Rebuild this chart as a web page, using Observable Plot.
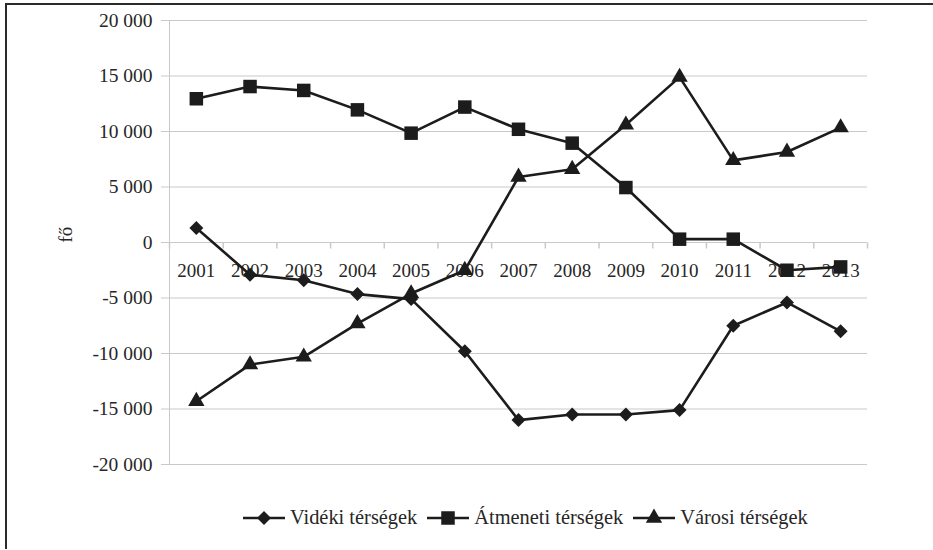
<!DOCTYPE html>
<html><head><meta charset="utf-8">
<script src="https://cdn.jsdelivr.net/npm/d3@7"></script>
<script src="https://cdn.jsdelivr.net/npm/@observablehq/plot@0.6"></script>
<style>
body{margin:0;background:#fff;}
#frame{position:absolute;left:5px;top:3px;width:928px;height:546px;border-left:2px solid #2a2a2a;border-top:2px solid #2a2a2a;box-sizing:border-box;}
#chart{position:absolute;left:0;top:0;}
#chart svg, #chart svg text{font-family:"Liberation Serif","Times New Roman","DejaVu Serif",serif !important;}
#legend{position:absolute;top:506px;left:243px;display:flex;align-items:center;font-family:"Liberation Serif","Times New Roman","DejaVu Serif",serif;font-size:20.4px;color:#262626;white-space:nowrap;}
#legend .item{display:flex;align-items:center;margin-right:10px;}
#legend svg{margin-right:5px;}
</style></head><body>
<div id="frame"></div>
<div id="chart"></div>
<div id="legend"></div>
<script>
const years = [2001,2002,2003,2004,2005,2006,2007,2008,2009,2010,2011,2012,2013];
const videki   = [1300,-2900,-3400,-4650,-5100,-9800,-16000,-15500,-15500,-15100,-7500,-5400,-8000];
const atmeneti = [12950,14050,13700,11950,9850,12200,10200,8950,4950,300,300,-2500,-2200];
const varosi   = [-14300,-11000,-10300,-7300,-4600,-2500,5900,6600,10600,14900,7400,8150,10350];
const seriesNames = ["Vidéki térségek","Átmeneti térségek","Városi térségek"];
const yTicks = [-20000,-15000,-10000,-5000,0,5000,10000,15000,20000];
const yLabel = "fő";

const symbols = ["diamond2","square2","triangle2"];
const radii = [6.3,8.6,7.8];
const ink = "#1c1c1c";
const grid = "#c9c9c9";
const serif = "'Liberation Serif','Times New Roman','DejaVu Serif',serif";

const seriesValues = [videki, atmeneti, varosi];
const rows = [];
seriesValues.forEach((vals, s) => vals.forEach((v, i) => rows.push({series: seriesNames[s], year: years[i], value: v})));
const boundaries = [...years.map(y => y - 0.5), years[years.length - 1] + 0.5];

const fmt = d => {
  const s = Math.abs(d).toString().replace(/\B(?=(\d{3})+(?!\d))/g, " ");
  return (d < 0 ? "-" : "") + s;
};
const tickSymbol = {draw(ctx) { ctx.moveTo(0, 0); ctx.lineTo(0, 6); }};

const marks = [
  Plot.ruleY(yTicks, {stroke: grid, strokeWidth: 1}),
  Plot.ruleX([boundaries[0]], {y1: yTicks[0], y2: yTicks[yTicks.length - 1], stroke: grid}),
  Plot.axisY({ticks: yTicks, tickSize: 8, tickPadding: 9, tickFormat: fmt, stroke: grid, fontSize: 19.5, label: null}),
  Plot.dot(boundaries, {x: d => d, y: 0, symbol: tickSymbol, stroke: grid, fill: "none", r: 5}),
  Plot.text(years, {x: d => d, y: 0, dy: 28, text: d => String(d), fontSize: 19, fill: "#262626"}),
  Plot.text([yLabel], {frameAnchor: "left", dx: -104, rotate: -90, text: d => d, fontSize: 19, fill: "#262626"})
];
seriesNames.forEach((name, s) => {
  const data = rows.filter(r => r.series === name);
  marks.push(Plot.line(data, {x: "year", y: "value", stroke: ink, strokeWidth: 2.6}));
  marks.push(Plot.dot(data, {x: "year", y: "value", symbol: symbols[s], r: radii[s], fill: ink}));
});

const chart = Plot.plot({
  width: 933,
  height: 500,
  marginLeft: 169,
  marginRight: 66,
  marginTop: 20,
  marginBottom: 36,
  style: {fontFamily: serif, fontSize: "19px", color: "#262626", background: "transparent"},
  x: {type: "linear", domain: [boundaries[0], boundaries[boundaries.length - 1]], axis: null},
  y: {domain: [yTicks[0], yTicks[yTicks.length - 1]], axis: null},
  marks
});
document.getElementById("chart").appendChild(chart);

// Legend
const legend = d3.select("#legend");
const d3sym = [d3.symbolDiamond2, d3.symbolSquare2, d3.symbolTriangle2];
seriesNames.forEach((name, s) => {
  const item = legend.append("div").attr("class", "item");
  const svg = item.append("svg").attr("width", 42).attr("height", 20);
  svg.append("line").attr("x1", 0).attr("x2", 42).attr("y1", 10).attr("y2", 10).attr("stroke", ink).attr("stroke-width", 2.6);
  svg.append("path").attr("transform", "translate(21,10)").attr("fill", ink)
    .attr("d", d3.symbol(d3sym[s], Math.PI * radii[s] * radii[s])());
  item.append("span").text(name);
});
</script>
</body></html>
